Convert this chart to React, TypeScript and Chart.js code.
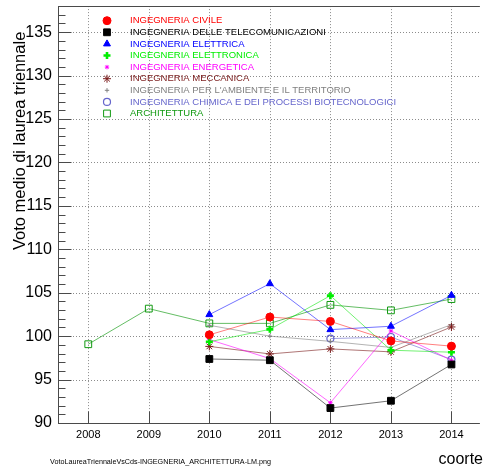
import React, { useEffect, useRef } from 'react';
import { Chart, registerables } from 'chart.js';
import * as helpers from 'chart.js/helpers';

Chart.register(...registerables);

// ---- data ----
const years = [2008, 2009, 2010, 2011, 2012, 2013, 2014];
const yMajorTicks = [90, 95, 100, 105, 110, 115, 120, 125, 130, 135];
const yMin = 90;
const yMax = 138;
const xMin = 2007.5;
const xMax = 2014.47;

const civile = [null, null, 100.15, 102.2, 101.7, 99.45, 98.85];
const telecomunicazioni = [null, null, 97.37, 97.23, 91.72, 92.56, 96.74];
const elettrica = [null, null, 102.48, 106.04, 100.75, 101.14, 104.7];
const elettronica = [null, null, 99.35, 100.78, 104.66, 98.38, 98.15];
const energetica = [null, null, 99.6, 97.42, 92.33, 100.6, 97.23];
const meccanica = [null, null, 98.82, 97.95, 98.53, 98.19, 101.06];
const ambiente = [null, null, 101.25, 100.0, 99.4, 98.7, 101.33];
const chimica = [null, null, null, null, 99.72, 99.9, 97.3];
const architettura = [99.07, 103.17, 101.47, 101.47, 103.6, 102.97, 104.27];

const labels = [
  'INGEGNERIA CIVILE',
  'INGEGNERIA DELLE TELECOMUNICAZIONI',
  'INGEGNERIA ELETTRICA',
  'INGEGNERIA ELETTRONICA',
  'INGEGNERIA ENERGETICA',
  'INGEGNERIA MECCANICA',
  "INGEGNERIA PER L'AMBIENTE E IL TERRITORIO",
  'INGEGNERIA CHIMICA E DEI PROCESSI BIOTECNOLOGICI',
  'ARCHITETTURA',
];
const values = [civile, telecomunicazioni, elettrica, elettronica, energetica, meccanica, ambiente, chimica, architettura];

// ---- styles ----
const colors = ['#ff0000', '#000000', '#0000ff', '#00ee00', '#ff00ff', '#7a1a1a', '#808080', '#6666cc', '#119911'];
const lineColors = ['rgba(255,0,0,0.5)', 'rgba(0,0,0,0.55)', 'rgba(0,0,255,0.55)', 'rgba(0,230,0,0.55)', 'rgba(255,0,255,0.6)', 'rgba(122,26,26,0.6)', 'rgba(128,128,128,0.6)', 'rgba(102,102,204,0.6)', 'rgba(17,153,17,0.65)'];
const pointStyles = ['circle', 'rect', 'triangle', 'cross', 'star', 'star', 'cross', 'circle', 'rect'];
const pointRadii = [4, 4.8, 4, 3.5, 2.2, 4, 2.2, 3.5, 4.8];
const pointBorders = [1, 1, 1, 2.6, 1, 1, 1, 1.2, 1];
const pointFills = [true, true, true, true, true, true, true, false, false];

const FONT = "'Liberation Sans', Arial, Helvetica, sans-serif";

const drawExtras = {
  id: 'rootLook',
  beforeDraw(chart: any) {
    const ctx = chart.ctx;
    ctx.save();
    ctx.fillStyle = '#ffffff';
    ctx.fillRect(0, 0, chart.width, chart.height);
    ctx.restore();
  },
  beforeDatasetsDraw(chart: any) {
    const { ctx, chartArea: a, scales } = chart;
    const x = scales.x;
    const y = scales.y;
    ctx.save();
    const line = (x1: number, y1: number, x2: number, y2: number) => {
      ctx.beginPath();
      ctx.moveTo(x1, y1);
      ctx.lineTo(x2, y2);
      ctx.stroke();
    };
    // grid
    ctx.strokeStyle = '#8c8c8c';
    ctx.lineWidth = 1;
    ctx.setLineDash([1, 2]);
    for (const v of years) {
      const px = Math.round(x.getPixelForValue(v)) + 0.5;
      line(px, a.top, px, a.bottom);
    }
    for (const v of yMajorTicks) {
      if (v <= yMin) continue;
      const py = Math.round(y.getPixelForValue(v)) + 0.5;
      line(a.left, py, a.right, py);
    }
    ctx.setLineDash([]);
    // frame
    ctx.strokeStyle = '#4a4a4a';
    ctx.lineWidth = 1;
    const L = Math.round(a.left) + 0.5;
    const B = Math.round(a.bottom) + 0.5;
    const T = Math.round(a.top) + 0.5;
    line(L, a.top, L, a.bottom + 1);
    line(a.left, B, a.right, B);
    line(a.left, T, a.right, T);
    // x ticks
    for (const v of years) {
      const px = Math.round(x.getPixelForValue(v)) + 0.5;
      line(px, B, px, B - 12);
    }
    // y ticks
    for (let v = yMin; v <= yMax; v += 1) {
      const py = Math.round(y.getPixelForValue(v)) + 0.5;
      const major = v % 5 === 0;
      line(L, py, L + (major ? 13 : 7), py);
    }
    ctx.restore();
  },
  afterDraw(chart: any) {
    const ctx = chart.ctx;
    ctx.save();
    // legend
    for (let i = 0; i < labels.length; i++) {
      const cy = 20.7 + i * 11.6;
      ctx.fillStyle = pointFills[i] ? colors[i] : 'rgba(0,0,0,0)';
      ctx.strokeStyle = colors[i];
      ctx.lineWidth = pointBorders[i];
      helpers.drawPoint(ctx, { pointStyle: pointStyles[i], rotation: 0, radius: pointRadii[i], borderWidth: pointBorders[i] }, 107, cy);
      ctx.fillStyle = colors[i];
      ctx.font = `9.5px ${FONT}`;
      ctx.textAlign = 'left';
      ctx.textBaseline = 'middle';
      ctx.fillText(labels[i], 130, cy);
    }
    // y title
    ctx.fillStyle = '#000';
    ctx.font = `16.5px ${FONT}`;
    ctx.save();
    ctx.translate(25, 250);
    ctx.rotate(-Math.PI / 2);
    ctx.textAlign = 'left';
    ctx.textBaseline = 'alphabetic';
    ctx.fillText('Voto medio di laurea triennale', 0, 0);
    ctx.restore();
    // x title
    ctx.font = `16px ${FONT}`;
    ctx.textAlign = 'right';
    ctx.textBaseline = 'alphabetic';
    ctx.fillText('coorte', 483, 464);
    // file name
    ctx.font = `7.2px ${FONT}`;
    ctx.textAlign = 'left';
    ctx.fillText('VotoLaureaTriennaleVsCds-INGEGNERIA_ARCHITETTURA-LM.png', 50, 464);
    ctx.restore();
  },
};

function App() {
  const ref = useRef<HTMLCanvasElement>(null);
  useEffect(() => {
    const datasets = values.map((vals, i) => ({
      label: labels[i],
      data: years
        .map((yr, j) => ({ x: yr, y: vals[j] }))
        .filter((p) => p.y !== null),
      borderColor: lineColors[i],
      borderWidth: 1,
      pointBorderColor: colors[i],
      pointBackgroundColor: pointFills[i] ? colors[i] : 'rgba(0,0,0,0)',
      pointStyle: pointStyles[i],
      pointRadius: pointRadii[i],
      pointBorderWidth: pointBorders[i],
      pointHoverRadius: pointRadii[i],
      tension: 0,
      fill: false,
    }));
    const chart = new Chart(ref.current as HTMLCanvasElement, {
      type: 'line',
      data: { datasets } as any,
      plugins: [drawExtras],
      options: {
        animation: false,
        responsive: false,
        devicePixelRatio: 1,
        layout: { padding: { top: 5, right: 0, left: 0, bottom: 0 } },
        plugins: { legend: { display: false }, tooltip: { enabled: false } },
        scales: {
          x: {
            type: 'linear',
            min: xMin,
            max: xMax,
            grid: { display: false, drawTicks: false, tickLength: 0 },
            border: { display: false },
            afterBuildTicks: (s: any) => {
              s.ticks = years.map((v) => ({ value: v }));
            },
            afterFit: (s: any) => {
              s.height = 43;
              s.paddingLeft = 0;
              s.paddingRight = 0;
            },
            ticks: {
              autoSkip: false,
              maxRotation: 0,
              padding: 5,
              color: '#000',
              font: { family: FONT, size: 11 },
              callback: (v: any) => String(v),
            },
          },
          y: {
            type: 'linear',
            min: yMin,
            max: yMax,
            grid: { display: false, drawTicks: false, tickLength: 0 },
            border: { display: false },
            afterBuildTicks: (s: any) => {
              s.ticks = yMajorTicks.map((v) => ({ value: v }));
            },
            afterFit: (s: any) => {
              s.width = 58;
              s.paddingTop = 0;
              s.paddingBottom = 0;
            },
            ticks: {
              autoSkip: false,
              padding: 6,
              color: '#000',
              font: { family: FONT, size: 16 },
              callback: (v: any) => String(v),
            },
          },
        },
      } as any,
    });
    return () => chart.destroy();
  }, []);
  return (
    <div style={{ position: 'fixed', left: 0, top: 0, width: 486, height: 466, background: '#fff', overflow: 'hidden' }}>
      <canvas ref={ref} width={486} height={466} style={{ display: 'block', width: 486, height: 466 }} />
    </div>
  );
}

export default App;
